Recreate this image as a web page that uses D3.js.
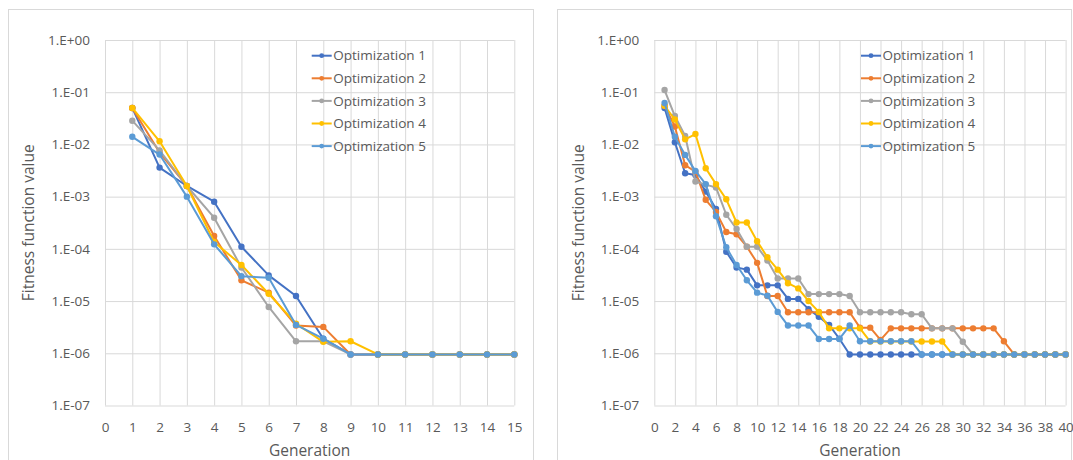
<!DOCTYPE html>
<html>
<head>
<meta charset="utf-8">
<script src="https://cdn.jsdelivr.net/npm/d3@7"></script>
<style>
body { margin: 0; background: #fff; }
text { font-family: "Open Sans", sans-serif; fill: #595959; }
</style>
</head>
<body>
<svg id="chart" width="1073" height="460"></svg>
<script>

// series names and colours (Excel office palette)
const seriesNames = ["Optimization 1", "Optimization 2", "Optimization 3", "Optimization 4", "Optimization 5"];
const seriesColors = ["#4472C4", "#ED7D31", "#A5A5A5", "#FFC000", "#5B9BD5"];

// log axis ticks
const yTickValues = [1, 1e-1, 1e-2, 1e-3, 1e-4, 1e-5, 1e-6, 1e-7];
const yTickLabels = ["1.E+00", "1.E-01", "1.E-02", "1.E-03", "1.E-04", "1.E-05", "1.E-06", "1.E-07"];

// ---- left chart: 15 generations ----
const genLeft = [1, 2, 3, 4, 5, 6, 7, 8, 9, 10, 11, 12, 13, 14, 15];
const xTicksLeft = [0, 1, 2, 3, 4, 5, 6, 7, 8, 9, 10, 11, 12, 13, 14, 15];

const opt1Left = [5.0e-2, 3.6e-3, 1.6e-3, 8.0e-4, 1.1e-4, 3.1e-5, 1.25e-5, 1.9e-6, 9.5e-7, 9.5e-7, 9.5e-7, 9.5e-7, 9.5e-7, 9.5e-7, 9.5e-7];
const opt2Left = [5.0e-2, 7.0e-3, 1.6e-3, 1.76e-4, 2.5e-5, 1.45e-5, 3.4e-6, 3.2e-6, 9.5e-7, 9.5e-7, 9.5e-7, 9.5e-7, 9.5e-7, 9.5e-7, 9.5e-7];
const opt3Left = [2.85e-2, 7.7e-3, 1.6e-3, 3.95e-4, 4.4e-5, 7.7e-6, 1.7e-6, 1.7e-6, 9.5e-7, 9.5e-7, 9.5e-7, 9.5e-7, 9.5e-7, 9.5e-7, 9.5e-7];
const opt4Left = [5.0e-2, 1.15e-2, 1.6e-3, 1.35e-4, 4.9e-5, 1.38e-5, 3.7e-6, 1.66e-6, 1.7e-6, 9.5e-7, 9.5e-7, 9.5e-7, 9.5e-7, 9.5e-7, 9.5e-7];
const opt5Left = [1.4e-2, 6.4e-3, 1.0e-3, 1.22e-4, 3.0e-5, 2.8e-5, 3.5e-6, 1.9e-6, 9.5e-7, 9.5e-7, 9.5e-7, 9.5e-7, 9.5e-7, 9.5e-7, 9.5e-7];

// ---- right chart: 40 generations ----
const genRight = [1, 2, 3, 4, 5, 6, 7, 8, 9, 10, 11, 12, 13, 14, 15, 16, 17, 18, 19, 20,
                  21, 22, 23, 24, 25, 26, 27, 28, 29, 30, 31, 32, 33, 34, 35, 36, 37, 38, 39, 40];
const xTicksRight = [0, 2, 4, 6, 8, 10, 12, 14, 16, 18, 20, 22, 24, 26, 28, 30, 32, 34, 36, 38, 40];

const opt1Right = [5.0e-2, 1.1e-2, 2.8e-3, 2.6e-3, 1.25e-3, 5.8e-4, 8.8e-5, 4.4e-5, 4.0e-5, 2.0e-5,
                   2.0e-5, 2.0e-5, 1.1e-5, 1.1e-5, 7.0e-6, 5.0e-6, 3.5e-6, 1.9e-6, 9.5e-7, 9.5e-7,
                   9.5e-7, 9.5e-7, 9.5e-7, 9.5e-7, 9.5e-7, 9.5e-7, 9.5e-7, 9.5e-7, 9.5e-7, 9.5e-7,
                   9.5e-7, 9.5e-7, 9.5e-7, 9.5e-7, 9.5e-7, 9.5e-7, 9.5e-7, 9.5e-7, 9.5e-7, 9.5e-7];
const opt2Right = [5.5e-2, 2.2e-2, 4.0e-3, 3.0e-3, 8.7e-4, 5.1e-4, 2.1e-4, 1.9e-4, 1.1e-4, 5.4e-5,
                   1.25e-5, 1.25e-5, 6.1e-6, 6.1e-6, 6.1e-6, 6.1e-6, 6.1e-6, 6.1e-6, 6.1e-6, 3.1e-6,
                   3.1e-6, 1.8e-6, 3.0e-6, 3.0e-6, 3.0e-6, 3.0e-6, 3.0e-6, 3.0e-6, 3.0e-6, 3.0e-6,
                   3.0e-6, 3.0e-6, 3.0e-6, 1.7e-6, 9.5e-7, 9.5e-7, 9.5e-7, 9.5e-7, 9.5e-7, 9.5e-7];
const opt3Right = [1.1e-1, 3.5e-2, 1.45e-2, 1.95e-3, 1.7e-3, 1.5e-3, 4.5e-4, 2.4e-4, 1.1e-4, 1.1e-4,
                   6.0e-5, 2.7e-5, 2.7e-5, 2.7e-5, 1.36e-5, 1.36e-5, 1.36e-5, 1.36e-5, 1.25e-5, 6.1e-6,
                   6.1e-6, 6.1e-6, 6.1e-6, 6.1e-6, 5.6e-6, 5.6e-6, 3.0e-6, 3.0e-6, 3.0e-6, 1.66e-6,
                   9.5e-7, 9.5e-7, 9.5e-7, 9.5e-7, 9.5e-7, 9.5e-7, 9.5e-7, 9.5e-7, 9.5e-7, 9.5e-7];
const opt4Right = [5.5e-2, 3.0e-2, 1.25e-2, 1.58e-2, 3.5e-3, 1.74e-3, 8.9e-4, 3.2e-4, 3.2e-4, 1.4e-4,
                   6.9e-5, 4.0e-5, 2.2e-5, 1.75e-5, 1.0e-5, 6.2e-6, 3.0e-6, 3.0e-6, 3.0e-6, 3.0e-6,
                   1.68e-6, 1.68e-6, 1.68e-6, 1.68e-6, 1.68e-6, 1.68e-6, 1.68e-6, 1.68e-6, 9.5e-7, 9.5e-7,
                   9.5e-7, 9.5e-7, 9.5e-7, 9.5e-7, 9.5e-7, 9.5e-7, 9.5e-7, 9.5e-7, 9.5e-7, 9.5e-7];
const opt5Right = [6.2e-2, 1.4e-2, 6.3e-3, 3.1e-3, 1.74e-3, 4.2e-4, 1.07e-4, 4.9e-5, 2.5e-5, 1.45e-5,
                   1.27e-5, 6.2e-6, 3.4e-6, 3.4e-6, 3.4e-6, 1.88e-6, 1.88e-6, 1.88e-6, 3.4e-6, 1.7e-6,
                   1.7e-6, 1.7e-6, 1.7e-6, 1.7e-6, 1.7e-6, 9.5e-7, 9.5e-7, 9.5e-7, 9.5e-7, 9.5e-7,
                   9.5e-7, 9.5e-7, 9.5e-7, 9.5e-7, 9.5e-7, 9.5e-7, 9.5e-7, 9.5e-7, 9.5e-7, 9.5e-7];

const svg = d3.select("#chart");

graph({ boxX: 8, boxW: 525, left: 105, right: 514.3, maxGen: 15, xTicks: xTicksLeft,
        gens: genLeft, series: [opt1Left, opt2Left, opt3Left, opt4Left, opt5Left] });
graph({ boxX: 557, boxW: 514, left: 654.3, right: 1065.6, maxGen: 40, xTicks: xTicksRight,
        gens: genRight, series: [opt1Right, opt2Right, opt3Right, opt4Right, opt5Right] });

function graph(p) {

const top = 40;
const bottom = 405.5;
const gridColor = "#d9d9d9";

const xScale = d3.scaleLinear()
	.domain([0, p.maxGen])
	.range([p.left, p.right]);
const yScale = d3.scaleLog()
	.domain([1e-7, 1])
	.range([bottom, top]);

// chart area border (runs off the bottom of the picture)
svg.append("rect")
	.attr("x", p.boxX + 0.5)
	.attr("y", 9.5)
	.attr("width", p.boxW)
	.attr("height", 470)
	.attr("fill", "none")
	.attr("stroke", gridColor);

// horizontal gridlines + y labels
const yAxis = svg.append("g")
	.attr("transform", `translate(${p.left}, 0)`)
	.call(d3.axisLeft(yScale)
		.tickValues(yTickValues)
		.tickFormat((d, i) => yTickLabels[i])
		.tickSize(-(p.right - p.left))
		.tickPadding(15));
yAxis.select(".domain").remove();
yAxis.selectAll("line").attr("stroke", gridColor);
yAxis.selectAll("text")
	.style("font-size", "13.5px")
	.attr("font-family", null)
	.attr("fill", "#595959");

// vertical gridlines + x labels
const xAxis = svg.append("g")
	.attr("transform", `translate(0, ${bottom})`)
	.call(d3.axisBottom(xScale)
		.tickValues(p.xTicks)
		.tickSize(-(bottom - top)));
xAxis.select(".domain").remove();
xAxis.selectAll("line").attr("stroke", gridColor);
xAxis.selectAll("text")
	.attr("y", 21.5)
	.attr("dy", "0.35em")
	.style("font-size", "13.5px")
	.attr("fill", "#595959");

// axis titles
svg.append("text")
	.attr("x", (p.left + p.right) / 2)
	.attr("y", 451)
	.attr("dy", "0.35em")
	.attr("text-anchor", "middle")
	.style("font-size", "15.5px")
	.text("Generation");

svg.append("text")
	.attr("transform", `translate(${p.left - 76}, ${(top + bottom) / 2}) rotate(-90)`)
	.attr("dy", "0.35em")
	.attr("text-anchor", "middle")
	.style("font-size", "15.5px")
	.text("Fitness function value");

const makeLine = d3.line()
	.x(d => xScale(d[0]))
	.y(d => yScale(d[1]));

// lines and markers, series 1 first so series 5 ends on top
p.series.forEach(function(values, i) {
	const pts = values.map((v, j) => [p.gens[j], v]);
	const g = svg.append("g");
	g.append("path")
		.attr("d", makeLine(pts))
		.attr("fill", "none")
		.attr("stroke", seriesColors[i])
		.attr("stroke-width", 2)
		.attr("stroke-linejoin", "round");
	g.selectAll("circle").data(pts).enter()
		.append("circle")
		.attr("cx", d => xScale(d[0]))
		.attr("cy", d => yScale(d[1]))
		.attr("r", 3.2)
		.attr("fill", seriesColors[i]);
});

// legend
const legX = p.left + 206.7;
const legend = svg.append("g").selectAll("g").data(seriesNames).enter()
	.append("g")
	.attr("transform", (d, i) => `translate(${legX}, ${55.7 + i * 22.6})`);
legend.append("line")
	.attr("x1", 0).attr("x2", 20)
	.attr("stroke", (d, i) => seriesColors[i])
	.attr("stroke-width", 2);
legend.append("circle")
	.attr("cx", 10)
	.attr("r", 2.4)
	.attr("fill", (d, i) => seriesColors[i]);
legend.append("text")
	.attr("x", 21.6)
	.attr("dy", "0.35em")
	.style("font-size", "13.5px")
	.text(d => d);

} // graph function

</script>
</body>
</html>
